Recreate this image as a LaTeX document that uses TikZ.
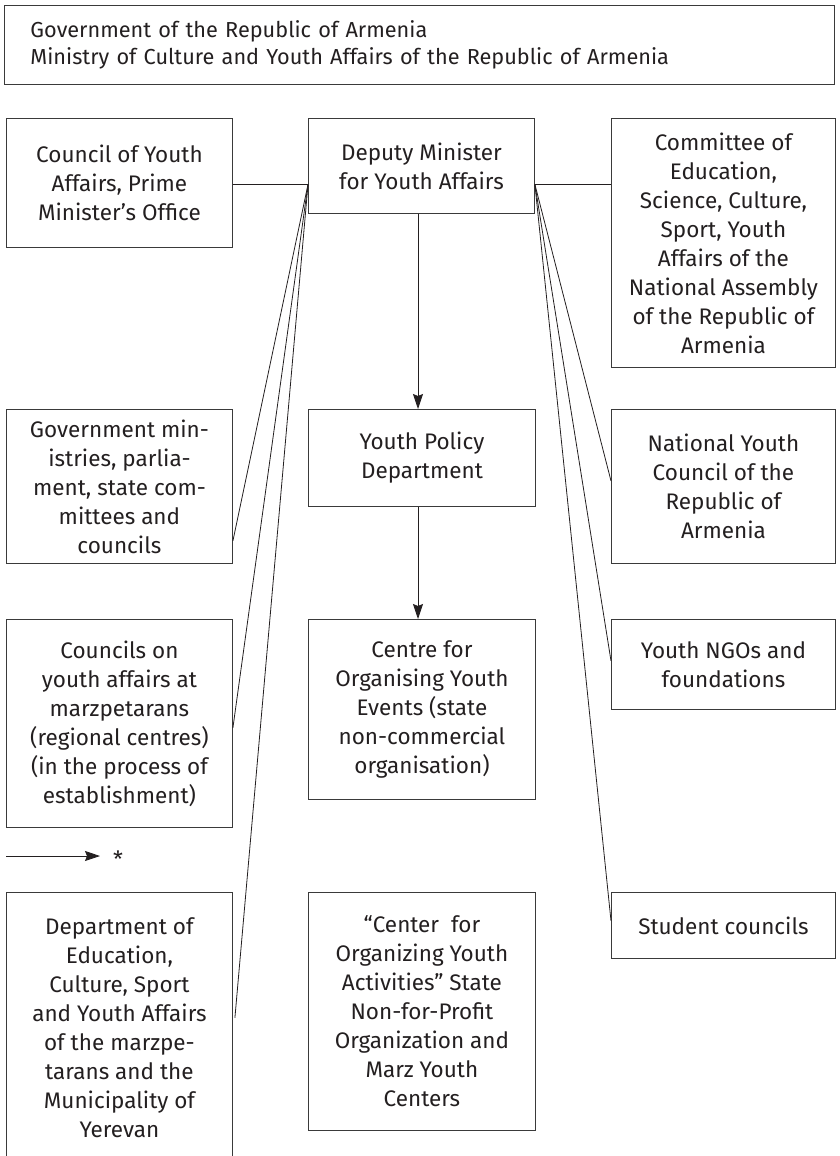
\documentclass[tikz,border=0pt]{standalone}
\usepackage{fontspec}
\IfFontExistsTF{Fira Sans Book}
  {\setmainfont{Fira Sans}[UprightFont=* Book]}
  {\setmainfont{Fira Sans}}
\usetikzlibrary{arrows.meta}
\definecolor{ink}{HTML}{231F20}
\definecolor{rule}{HTML}{3A3A3A}
\tikzset{
  box/.style={draw=rule, line width=0.9pt, anchor=north west, align=center,
    text=ink, inner sep=0pt, font=\fontsize{22.5}{29}\selectfont},
  link/.style={draw=ink, line width=0.8pt},
  flow/.style={link, -{Stealth[length=15pt, width=10pt, inset=2pt]}},
}
\begin{document}
\begin{tikzpicture}[x=1pt, y=-1pt]
\useasboundingbox (0,0) rectangle (839,1156);

% heading box
\node[box, align=left, minimum width=830, minimum height=79, text width=778,
      inner xsep=26pt, font=\fontsize{21.7}{27}\selectfont] (gov) at (4,5)
  {Government of the Republic of Armenia\\
   Ministry of Culture and Youth Affairs of the Republic of Armenia};

% first row
\node[box, minimum width=226, minimum height=129] (council) at (6,118)
  {Council of Youth\\Affairs, Prime\\Minister’s Office};
\node[box, minimum width=226, minimum height=95] (deputy) at (308,118)
  {Deputy Minister\\for Youth Affairs};
\node[box, minimum width=224, minimum height=249] (committee) at (611,118)
  {Committee of\\Education,\\Science, Culture,\\Sport, Youth\\Affairs of the\\National Assembly\\of the Republic of\\Armenia};

% second row
\node[box, minimum width=226, minimum height=154] (govmin) at (6,409)
  {Government min-\\istries, parlia-\\ment, state com-\\mittees and\\councils};
\node[box, minimum width=227, minimum height=97] (ypd) at (308,409)
  {Youth Policy\\Department};
\node[box, minimum width=224, minimum height=154] (nyc) at (611,409)
  {National Youth\\Council of the\\Republic of\\Armenia};

% third row
\node[box, minimum width=226, minimum height=208] (councils) at (6,619)
  {Councils on\\youth affairs at\\marzpetarans\\(regional centres)\\(in the process of\\establishment)};
\node[box, minimum width=227, minimum height=180] (centre) at (308,619)
  {Centre for\\Organising Youth\\Events (state\\non-commercial\\organisation)};
\node[box, minimum width=224, minimum height=90] (ngos) at (611,619)
  {Youth NGOs and\\foundations};

% legend
\coordinate (legstart) at (6,856);
\coordinate (legtip) at (100,856);
\node[text=ink, inner sep=0pt, font=\fontsize{22.5}{29}\selectfont] (star) at (118,859) {*};
\draw[flow] (legstart) -- (legtip);

% fourth row
\node[box, minimum width=226, minimum height=270] (dept) at (6,892)
  {Department of\\Education,\\Culture, Sport\\and Youth Affairs\\of the marzpe-\\tarans and the\\Municipality of\\Yerevan};
\node[box, minimum width=227, minimum height=238] (center) at (308,892)
  {“Center\ \ for\\Organizing Youth\\Activities” State\\Non-for-Profit\\Organization and\\Marz Youth\\Centers};
\node[box, minimum width=224, minimum height=66] (student) at (611,892)
  {Student councils};

% connectors
\coordinate (dl) at ([yshift=-18.5pt]deputy.west);
\coordinate (dr) at ([yshift=-18.5pt]deputy.east);
\draw[link] (council.east |- dl) -- (dl);
\draw[link] (dr) -- (committee.west |- dr);
\draw[flow] (deputy.south -| 418,0) -- (ypd.north -| 418,0);
\draw[flow] (ypd.south -| 418,0) -- (centre.north -| 418,0);

\draw[link] (dl) -- ([yshift=23pt]govmin.south east);
\draw[link] (dl) -- ([yshift=100pt]councils.south east);
\draw[link] (dl) -- ([yshift=145pt, xshift=2pt]dept.south east);

\draw[link] (dr) -- ([yshift=83pt]nyc.south west);
\draw[link] (dr) -- ([yshift=49pt]ngos.south west);
\draw[link] (dr) -- ([yshift=38pt]student.south west);
\end{tikzpicture}
\end{document}
